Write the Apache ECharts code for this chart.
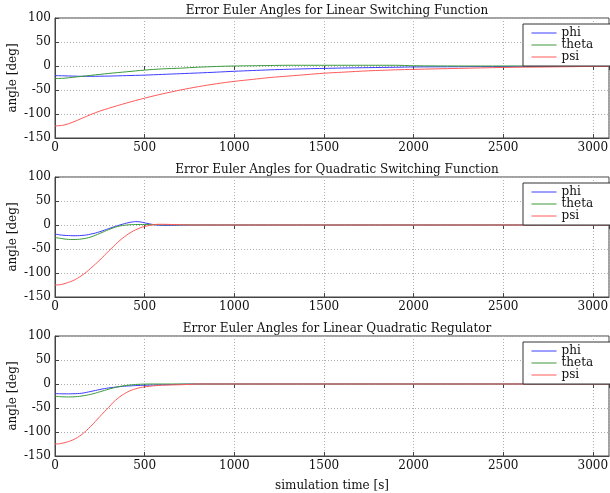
<!DOCTYPE html>
<html>
<head>
<meta charset="utf-8">
<script src="https://cdn.jsdelivr.net/npm/echarts@6/dist/echarts.min.js"></script>
<style>
  html, body { margin: 0; padding: 0; background: #fff; }
  #chart { width: 610px; height: 493px; }
</style>
</head>
<body>
<div id="chart"></div>
<script>
// plot titles
var titles = [
	'Error Euler Angles for Linear Switching Function',
	'Error Euler Angles for Quadratic Switching Function',
	'Error Euler Angles for Linear Quadratic Regulator'
];
var names = ['phi', 'theta', 'psi'];

// linear switching function
var tLin = [0, 50, 100, 150, 200, 250, 300, 400, 500, 600, 700, 800, 900, 1000, 1100, 1200, 1300, 1400, 1500, 1600, 1750, 1900, 2000, 2250, 2500, 2750, 3000, 3090];
var phiLin = [-20, -20.5, -21, -21.5, -21.5, -21.3, -21, -20, -19, -17.5, -16, -14.5, -12.8, -11, -9.5, -8, -6.8, -5.8, -5, -4.2, -3.4, -2.6, -2, -1.5, -1, -0.5, 0, 0];
var thetaLin = [-26, -25.5, -23.5, -21.5, -19.5, -17.5, -15.5, -12, -8.5, -6, -4.5, -2.5, -1, 0, 0.5, 1, 1.5, 1.5, 1.5, 1.5, 1.5, 1.5, 0.5, 0, 0, 0, 0, 0];
var psiLin = [-125, -123, -117, -109, -101, -94, -88, -77, -67, -58, -50, -43, -37, -32, -28, -24, -21, -18, -15, -13, -10, -8, -7, -5, -3, -2, -1, -1];

// quadratic switching function
var tQuad = [0, 25, 50, 75, 100, 125, 150, 175, 200, 225, 250, 275, 300, 325, 350, 375, 400, 425, 450, 475, 500, 525, 550, 575, 600, 650, 700, 800, 1000, 1500, 2000, 2500, 3000, 3090];
var phiQuad = [-19, -20.5, -21.5, -22, -22.3, -22.3, -21.8, -20.8, -19, -16.8, -14, -10.8, -7.5, -4.3, -1.3, 1.5, 4, 6, 7, 6.5, 4.5, 2.5, 0.8, -0.3, -0.8, -0.8, -0.3, 0, 0, 0, 0, 0, 0, 0];
var thetaQuad = [-26, -27.5, -29, -30, -30.3, -30, -29, -27.5, -25, -21.5, -17.5, -13.5, -9.5, -6, -3, -1, 0, 0.7, 1, 1, 1, 0.8, 0.6, 0.5, 0.5, 0.3, 0.2, 0, 0, 0, 0, 0, 0, 0];
var psiQuad = [-125, -124.5, -122.5, -119.5, -116, -111, -105, -98, -90, -81.5, -73, -63.5, -54, -45, -36, -28, -21, -15, -10, -6, -3, -1, 0.5, 1.5, 1.5, 1, 0.5, 0, 0, 0, 0, 0, 0, 0];

// linear quadratic regulator
var tLqr = [0, 25, 50, 75, 100, 125, 150, 175, 200, 225, 250, 275, 300, 325, 350, 375, 400, 425, 450, 475, 500, 550, 600, 650, 700, 750, 800, 1000, 1500, 2000, 2500, 3000, 3090];
var phiLqr = [-20, -20.3, -20.5, -20.5, -20.3, -20, -19.2, -17.5, -15.5, -13.5, -11.5, -9.7, -8.2, -7, -6, -5, -4.3, -3.8, -3.3, -2.9, -2.6, -2.1, -1.6, -1.1, -0.6, -0.2, 0, 0, 0, 0, 0, 0, 0];
var thetaLqr = [-25.5, -26.3, -26.8, -27, -26.8, -26.2, -25, -23.5, -21.5, -19, -16.3, -13.5, -10.7, -8.2, -6, -4.2, -2.8, -1.8, -1, -0.5, -0.2, 0, 0, 0, 0, 0, 0, 0, 0, 0, 0, 0, 0];
var psiLqr = [-125, -124.5, -122.5, -120, -116.5, -111.5, -105, -97, -88, -78, -68, -58, -48.5, -38, -30, -23, -17.5, -13, -10, -7.5, -6, -3.8, -2.5, -2, -1.5, -0.8, 0, 0, 0, 0, 0, 0, 0];

var colors = ['#3c3cff', '#3a9a3a', '#ff5a5a'];
var font = 'DejaVu Serif';

function pairs(t, v) {
	var out = [];
	for (var i = 0; i < t.length; i++) {
		out.push([t[i], v[i]]);
	}
	return out;
}

var plots = [
	{ t: tLin, v: [phiLin, thetaLin, psiLin] },
	{ t: tQuad, v: [phiQuad, thetaQuad, psiQuad] },
	{ t: tLqr, v: [phiLqr, thetaLqr, psiLqr] }
];
var tops = [18, 177, 336];
var plotH = 120;

var option = {
	animation: false,
	backgroundColor: '#fff',
	title: [],
	grid: [],
	xAxis: [],
	yAxis: [],
	legend: [],
	series: []
};

for (var p = 0; p < 3; p++) {
	option.title.push({
		text: titles[p],
		left: 332, top: tops[p] - 18, textAlign: 'center',
		textStyle: { fontFamily: font, fontSize: 12, fontWeight: 'normal', color: '#111' }
	});
	option.grid.push({
		left: 55, right: 1, top: tops[p], height: plotH,
		outerBoundsMode: 'none', containLabel: false,
		show: true, borderColor: '#444', borderWidth: 1
	});
	option.xAxis.push({
		type: 'value', gridIndex: p, min: 0, max: 3090, interval: 500,
		name: p == 2 ? 'simulation time [s]' : '',
		nameLocation: 'middle', nameGap: 24, nameMoveOverlap: false,
		nameTextStyle: { fontFamily: font, fontSize: 12, color: '#111' },
		axisLine: { show: true, onZero: false, lineStyle: { color: '#444' } },
		axisTick: { inside: true, length: 4, lineStyle: { color: '#444' } },
		axisLabel: {
			fontFamily: font, fontSize: 12, color: '#111', margin: 4,
			showMaxLabel: false,
			formatter: function (v) { return String(v); }
		},
		splitLine: { show: true, lineStyle: { color: '#b0b0b0', type: [1, 2] } }
	});
	option.yAxis.push({
		type: 'value', gridIndex: p, min: -150, max: 100, interval: 50,
		name: 'angle [deg]', nameLocation: 'middle', nameGap: 36, nameMoveOverlap: false,
		nameTextStyle: { fontFamily: font, fontSize: 12, color: '#111' },
		axisLine: { show: true, lineStyle: { color: '#444' } },
		axisTick: { show: true, inside: true, length: 4, lineStyle: { color: '#444' } },
		axisLabel: { fontFamily: font, fontSize: 12, color: '#111', margin: 4 },
		splitLine: { show: true, lineStyle: { color: '#b0b0b0', type: [1, 2] } }
	});
	option.legend.push({
		data: names,
		orient: 'vertical',
		left: 523, top: tops[p] + 6,
		itemWidth: 25, itemHeight: 14, itemGap: 0,
		padding: [3, 18, 3, 8],
		backgroundColor: '#fff',
		borderColor: '#333', borderWidth: 1, borderRadius: 0,
		itemStyle: { opacity: 0 },
		lineStyle: { width: 1 },
		textStyle: { fontFamily: font, fontSize: 12, color: '#111' }
	});
	for (var s = 0; s < 3; s++) {
		option.series.push({
			name: names[s],
			type: 'line',
			xAxisIndex: p, yAxisIndex: p,
			data: pairs(plots[p].t, plots[p].v[s]),
			smooth: 0.3,
			symbol: 'none',
			lineStyle: { color: colors[s], width: 1 },
			itemStyle: { color: colors[s] },
			z: 3
		});
	}
}

// top ticks (box style)
for (var q = 0; q < 3; q++) {
	option.xAxis.push({
		type: 'value', gridIndex: q, position: 'top', min: 0, max: 3090, interval: 500,
		axisLine: { show: false },
		axisTick: { show: true, inside: true, length: 4, lineStyle: { color: '#444' } },
		axisLabel: { show: false },
		splitLine: { show: false }
	});
}

var chart = echarts.init(document.getElementById('chart'), null, { renderer: 'canvas' });
chart.setOption(option);
</script>
</body>
</html>
